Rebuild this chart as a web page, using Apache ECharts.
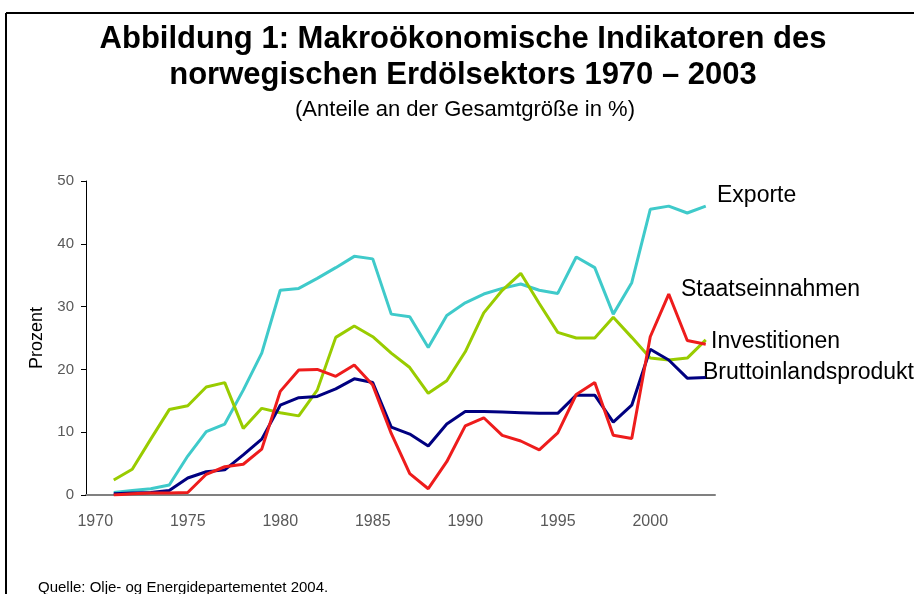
<!DOCTYPE html>
<html>
<head>
<meta charset="utf-8">
<script src="https://cdn.jsdelivr.net/npm/echarts@6/dist/echarts.min.js"></script>
<style>
  html, body { margin: 0; padding: 0; background: #fff; }
  #main { width: 914px; height: 594px; }
</style>
</head>
<body>
<div id="main"></div>
<script>
// Years on the category axis (1970 has no values)
const years = [];
for (let y = 1970; y <= 2003; y++) years.push(String(y));

// Values, 1970..2003
const exporte = [null, 0.4, 0.7, 1.0, 1.6, 6.2, 10.1, 11.3, 16.7, 22.6,
  32.6, 32.9, 34.5, 36.2, 38.0, 37.6, 28.8, 28.4, 23.5, 28.6,
  30.6, 32.0, 32.9, 33.6, 32.6, 32.1, 37.9, 36.2, 28.8, 33.8,
  45.5, 46.0, 44.9, 46.0];
const investitionen = [null, 2.4, 4.1, 8.9, 13.6, 14.2, 17.2, 17.9, 10.6, 13.8,
  13.1, 12.6, 16.7, 25.1, 26.9, 25.2, 22.6, 20.3, 16.2, 18.2,
  22.8, 29.0, 32.6, 35.3, 30.5, 25.9, 25.0, 25.0, 28.3, 25.1,
  21.8, 21.5, 21.8, 24.7];
const bip = [null, 0.2, 0.3, 0.4, 0.7, 2.7, 3.7, 4.0, 6.4, 8.9,
  14.3, 15.5, 15.7, 16.9, 18.5, 17.9, 10.8, 9.7, 7.8, 11.3,
  13.3, 13.3, 13.2, 13.1, 13.0, 13.0, 15.9, 15.9, 11.6, 14.3,
  23.2, 21.5, 18.6, 18.7];
const staat = [null, 0.0, 0.2, 0.3, 0.3, 0.4, 3.3, 4.5, 4.9, 7.3,
  16.5, 19.9, 20.0, 18.9, 20.7, 17.5, 9.8, 3.4, 1.0, 5.3,
  11.0, 12.3, 9.5, 8.6, 7.2, 9.9, 16.0, 17.9, 9.5, 9.0,
  25.2, 32.0, 24.6, 24.0];
const yTicks = [0, 10, 20, 30, 40, 50];

var myChart = echarts.init(document.getElementById("main"));

function lineSeries(name, data, color) {
  return {
    name: name,
    type: "line",
    data: data,
    symbol: "none",
    lineStyle: { color: color, width: 3 },
    itemStyle: { color: color },
  };
}

var labelFont = "Liberation Sans";

var option = {
  animation: false,
  backgroundColor: "#fff",
  textStyle: { fontFamily: "Liberation Sans" },
  title: [
    {
      text: "Abbildung 1: Makroökonomische Indikatoren des\nnorwegischen Erdölsektors 1970 – 2003",
      left: 458,
      textAlign: "center",
      top: 16,
      textStyle: { fontSize: 31, fontWeight: "bold", color: "#000", lineHeight: 36 },
    },
    {
      text: "(Anteile an der Gesamtgröße in %)",
      left: 460,
      textAlign: "center",
      top: 94,
      textStyle: { fontSize: 22, fontWeight: "normal", color: "#000" },
    },
  ],
  grid: { left: 86, right: 199, top: 181, bottom: 99 },
  xAxis: {
    type: "category",
    data: years,
    boundaryGap: true,
    axisLine: { lineStyle: { color: "#808080", width: 2 } },
    axisTick: { interval: 0, length: 5, lineStyle: { color: "#000" } },
    axisLabel: {
      interval: 4,
      color: "#595959",
      fontSize: 16,
      margin: 19,
    },
    splitLine: { show: false },
  },
  yAxis: {
    type: "value",
    min: yTicks[0],
    max: yTicks[yTicks.length - 1],
    interval: 10,
    name: "Prozent",
    nameLocation: "middle",
    nameGap: 37,
    nameTextStyle: { color: "#000", fontSize: 18 },
    axisLine: { show: true, lineStyle: { color: "#000", width: 1 } },
    axisTick: { show: true, length: 5, lineStyle: { color: "#000" } },
    axisLabel: { color: "#595959", fontSize: 15, margin: 12 },
    splitLine: { show: false },
  },
  series: [
    lineSeries("Exporte", exporte, "#3FCACA"),
    lineSeries("Investitionen", investitionen, "#99CC00"),
    lineSeries("Bruttoinlandsprodukt", bip, "#000080"),
    lineSeries("Staatseinnahmen", staat, "#EE1C1C"),
  ],
  graphic: [
    // frame
    { type: "line", shape: { x1: 6, y1: 13, x2: 914, y2: 13 }, style: { stroke: "#000", lineWidth: 2 } },
    { type: "line", shape: { x1: 6, y1: 13, x2: 6, y2: 594 }, style: { stroke: "#000", lineWidth: 2 } },
    // line labels
    { type: "text", left: 717, top: 184, style: { text: "Exporte", fontSize: 23, fill: "#000", fontFamily: labelFont } },
    { type: "text", left: 681, top: 278, style: { text: "Staatseinnahmen", fontSize: 23, fill: "#000", fontFamily: labelFont } },
    { type: "text", left: 711, top: 330, style: { text: "Investitionen", fontSize: 23, fill: "#000", fontFamily: labelFont } },
    { type: "text", left: 703, top: 361, style: { text: "Bruttoinlandsprodukt", fontSize: 23, fill: "#000", fontFamily: labelFont } },
    // source
    { type: "text", left: 38, top: 580, style: { text: "Quelle: Olje- og Energidepartementet 2004.", fontSize: 15, fill: "#000", fontFamily: labelFont } },
  ],
};

myChart.setOption(option);

window.onresize = function () {
  myChart.resize();
};
</script>
</body>
</html>
